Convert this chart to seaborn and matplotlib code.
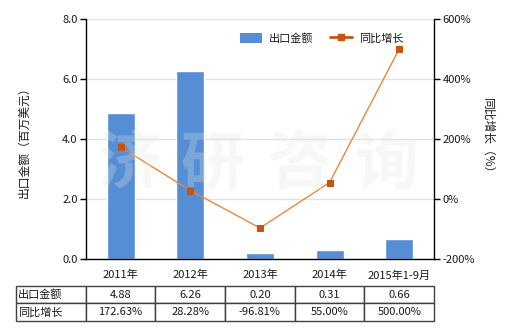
import numpy as np
import pandas as pd
import matplotlib
matplotlib.use('Agg')
import matplotlib.pyplot as plt
import seaborn as sns
from matplotlib.patches import Patch
from matplotlib.lines import Line2D

categories = ['2011年', '2012年', '2013年', '2014年', '2015年1-9月']
export_values = [4.88, 6.26, 0.20, 0.31, 0.66]
growth_pct = [172.63, 28.28, -96.81, 55.00, 500.00]
export_labels = ['4.88', '6.26', '0.20', '0.31', '0.66']
growth_labels = ['172.63%', '28.28%', '-96.81%', '55.00%', '500.00%']
row_labels = ['出口金额', '同比增长']
left_ticks = [0, 2, 4, 6, 8]
right_ticks = [-200, 0, 200, 400, 600]
watermark = '济研咨询'

bar_color = '#558ED5'
line_color = '#E8883A'
marker_color = '#C95410'
text_color = '#1a1a1a'

sns.set_theme(style='white')
plt.rcParams['font.family'] = ['Noto Sans CJK SC', 'DejaVu Sans']

fig = plt.figure(figsize=(5.2, 3.3), dpi=100)
ax = fig.add_axes([86 / 520, 1 - 259 / 330, 348 / 520, 240 / 330])

df = pd.DataFrame({'cat': categories, 'val': export_values, 'g': growth_pct})
sns.barplot(data=df, x='cat', y='val', color=bar_color, saturation=1,
            width=0.4, ax=ax, zorder=2)
ax.set_ylim(0, 8)
ax.set_yticks(left_ticks)
ax.set_yticklabels([f'{t:.1f}' for t in left_ticks])
ax.yaxis.grid(True, color='#e2e2e2', linewidth=1, zorder=0)
ax.set_axisbelow(True)
ax.set_xlabel('')
ax.set_ylabel('出口金额（百万美元）', fontsize=8.5, color=text_color)
ax.yaxis.set_label_coords(-0.16, 0.5)
for s in ['top', 'right']:
    ax.spines[s].set_visible(False)
for s in ['left', 'bottom']:
    ax.spines[s].set_color('black')
    ax.spines[s].set_linewidth(1)
ax.tick_params(axis='both', direction='out', length=4, width=1, color='black',
               labelsize=8, labelcolor=text_color, pad=2)
ax.tick_params(axis='x', pad=4)

ax2 = ax.twinx()
sns.lineplot(x=np.arange(len(categories)), y=growth_pct, ax=ax2, color=line_color,
             linewidth=1, marker='s', markersize=5, markerfacecolor=marker_color,
             markeredgecolor=marker_color, zorder=3)
ax2.set_ylim(-200, 600)
ax2.set_yticks(right_ticks)
ax2.set_yticklabels([f'{t}%' for t in right_ticks])
ax2.grid(False)
ax2.set_ylabel('同比增长（%）', fontsize=8.5, color=text_color, rotation=270)
ax2.yaxis.set_label_coords(1.172, 0.5)
for s in ['top', 'left', 'bottom']:
    ax2.spines[s].set_visible(False)
ax2.spines['right'].set_color('black')
ax2.spines['right'].set_linewidth(1)
ax2.tick_params(axis='y', direction='out', length=4, width=1, color='black',
                labelsize=8, labelcolor=text_color, pad=2)
ax2.set_xlim(-0.5, len(categories) - 0.5)

handles = [Patch(facecolor=bar_color, edgecolor='none', label=row_labels[0]),
           Line2D([], [], color=marker_color, linewidth=2, marker='s', markersize=4,
                  markerfacecolor=marker_color, label=row_labels[1])]
ax2.legend(handles=handles, loc='center right', bbox_to_anchor=(0.94, 0.92),
           frameon=False, ncol=2, fontsize=8, handlelength=2.0, handleheight=1.1,
           columnspacing=1.5, handletextpad=0.6, labelcolor=text_color)

table = ax.table(cellText=[[row_labels[0]] + export_labels,
                           [row_labels[1]] + growth_labels],
                 cellLoc='center',
                 bbox=[-0.2011, -0.2583, 1.2011, 0.1458])
table.auto_set_font_size(False)
table.set_fontsize(8)
for (r, c), cell in table.get_celld().items():
    cell.set_edgecolor('#404040')
    cell.set_linewidth(1)
    cell.get_text().set_color(text_color)
    if c == 0:
        cell._loc = 'left'
        cell.PAD = 0.03
        cell.get_text().set_horizontalalignment('left')

xs = [130, 213, 300, 387]
for ch, x in zip(watermark, xs):
    fig.text(x / 520, 1 - 165 / 330, ch, fontsize=46, fontweight='bold',
             color='#dfe6df', alpha=0.28, ha='center', va='center', zorder=10)

fig.savefig('out.png', dpi=100)
